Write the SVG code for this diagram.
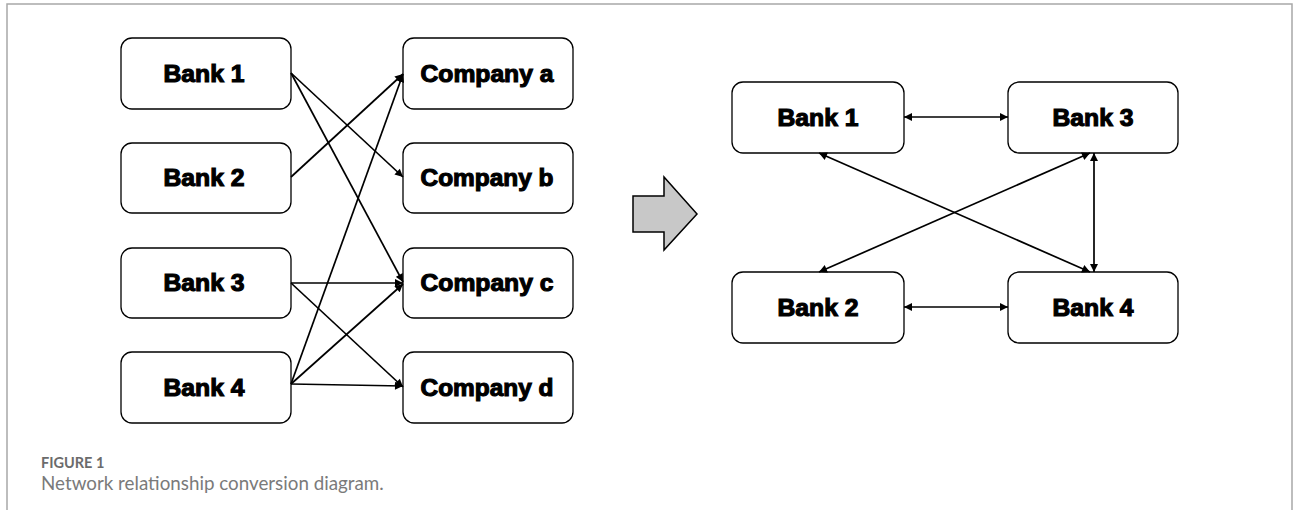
<svg xmlns="http://www.w3.org/2000/svg" width="1293" height="510" viewBox="0 0 1293 510">
<style>
.box{fill:#fff;stroke:#000;stroke-width:1.3}
.lbl{font-family:"Liberation Sans",Arial,sans-serif;font-weight:bold;font-size:23px;fill:#000;stroke:#000;stroke-width:1.1;text-anchor:middle}
.con{stroke:#000;stroke-width:1.7;fill:none}
.frame{stroke:#a8a8a8;stroke-width:1.5;fill:none}
</style>
<defs>
<marker id="ah" viewBox="0 0 10 10" refX="10" refY="5" markerWidth="9" markerHeight="8" markerUnits="userSpaceOnUse" orient="auto-start-reverse">
<path d="M0,0 L10,5 L0,10 z" fill="#000"/>
</marker>
</defs>
<path class="frame" d="M7,510 V4 H1292 V510"/>
<g id="left-nodes">
<g id="L-bank1"><rect class="box" x="121" y="38" width="170" height="71" rx="11"/><text class="lbl" x="204" y="82" textLength="81" lengthAdjust="spacingAndGlyphs">Bank 1</text></g>
<g id="L-bank2"><rect class="box" x="121" y="143" width="170" height="70" rx="11"/><text class="lbl" x="204" y="186" textLength="81" lengthAdjust="spacingAndGlyphs">Bank 2</text></g>
<g id="L-bank3"><rect class="box" x="121" y="248" width="170" height="70" rx="11"/><text class="lbl" x="204" y="291" textLength="81" lengthAdjust="spacingAndGlyphs">Bank 3</text></g>
<g id="L-bank4"><rect class="box" x="121" y="352" width="170" height="71" rx="11"/><text class="lbl" x="204" y="396" textLength="81" lengthAdjust="spacingAndGlyphs">Bank 4</text></g>
<g id="company-a"><rect class="box" x="403" y="38" width="170" height="71" rx="11"/><text class="lbl" x="487" y="82" textLength="133" lengthAdjust="spacingAndGlyphs">Company a</text></g>
<g id="company-b"><rect class="box" x="403" y="143" width="170" height="70" rx="11"/><text class="lbl" x="487" y="186" textLength="133" lengthAdjust="spacingAndGlyphs">Company b</text></g>
<g id="company-c"><rect class="box" x="403" y="248" width="170" height="70" rx="11"/><text class="lbl" x="487" y="291" textLength="133" lengthAdjust="spacingAndGlyphs">Company c</text></g>
<g id="company-d"><rect class="box" x="403" y="352" width="170" height="71" rx="11"/><text class="lbl" x="487" y="396" textLength="133" lengthAdjust="spacingAndGlyphs">Company d</text></g>
</g>
<g id="right-nodes">
<g id="R-bank1"><rect class="box" x="732" y="82" width="172" height="71" rx="11"/><text class="lbl" x="818" y="126" textLength="81" lengthAdjust="spacingAndGlyphs">Bank 1</text></g>
<g id="R-bank3"><rect class="box" x="1008" y="82" width="170" height="71" rx="11"/><text class="lbl" x="1093" y="126" textLength="81" lengthAdjust="spacingAndGlyphs">Bank 3</text></g>
<g id="R-bank2"><rect class="box" x="732" y="272" width="172" height="71" rx="11"/><text class="lbl" x="818" y="316" textLength="81" lengthAdjust="spacingAndGlyphs">Bank 2</text></g>
<g id="R-bank4"><rect class="box" x="1008" y="272" width="170" height="71" rx="11"/><text class="lbl" x="1093" y="316" textLength="81" lengthAdjust="spacingAndGlyphs">Bank 4</text></g>
</g>
<g id="transform-arrow">
<path d="M633,196 H664 V177 L697,214 L664,250 V232 H633 Z" fill="#c8c8c8" stroke="#000" stroke-width="1.5"/>
</g>
<g id="connectors">
<line class="con" x1="291" y1="73" x2="403" y2="177" marker-end="url(#ah)"/>
<line class="con" x1="291" y1="73" x2="403" y2="282" marker-end="url(#ah)"/>
<line class="con" x1="291" y1="177" x2="403" y2="74" marker-end="url(#ah)"/>
<line class="con" x1="291" y1="283" x2="403" y2="283" marker-end="url(#ah)"/>
<line class="con" x1="291" y1="283" x2="403" y2="387" marker-end="url(#ah)"/>
<line class="con" x1="291" y1="384" x2="403" y2="74" marker-end="url(#ah)"/>
<line class="con" x1="291" y1="384" x2="403" y2="284" marker-end="url(#ah)"/>
<line class="con" x1="291" y1="384" x2="403" y2="386" marker-end="url(#ah)"/>
<line class="con" x1="904" y1="117" x2="1008" y2="117" marker-start="url(#ah)" marker-end="url(#ah)"/>
<line class="con" x1="904" y1="307" x2="1008" y2="307" marker-start="url(#ah)" marker-end="url(#ah)"/>
<line class="con" x1="819" y1="153" x2="1090" y2="272" marker-start="url(#ah)" marker-end="url(#ah)"/>
<line class="con" x1="1090" y1="153" x2="819" y2="272" marker-start="url(#ah)" marker-end="url(#ah)"/>
<line class="con" x1="1094" y1="153" x2="1094" y2="272" marker-start="url(#ah)" marker-end="url(#ah)"/>
</g>
<g id="caption" font-family="Lato,'Open Sans',sans-serif">
<text x="41" y="468" font-size="14.5" font-weight="bold" fill="#6b6b6b">FIGURE 1</text>
<text x="41" y="490" font-size="18.8" fill="#7a7a7a">Network relationship conversion diagram.</text>
</g>
</svg>
